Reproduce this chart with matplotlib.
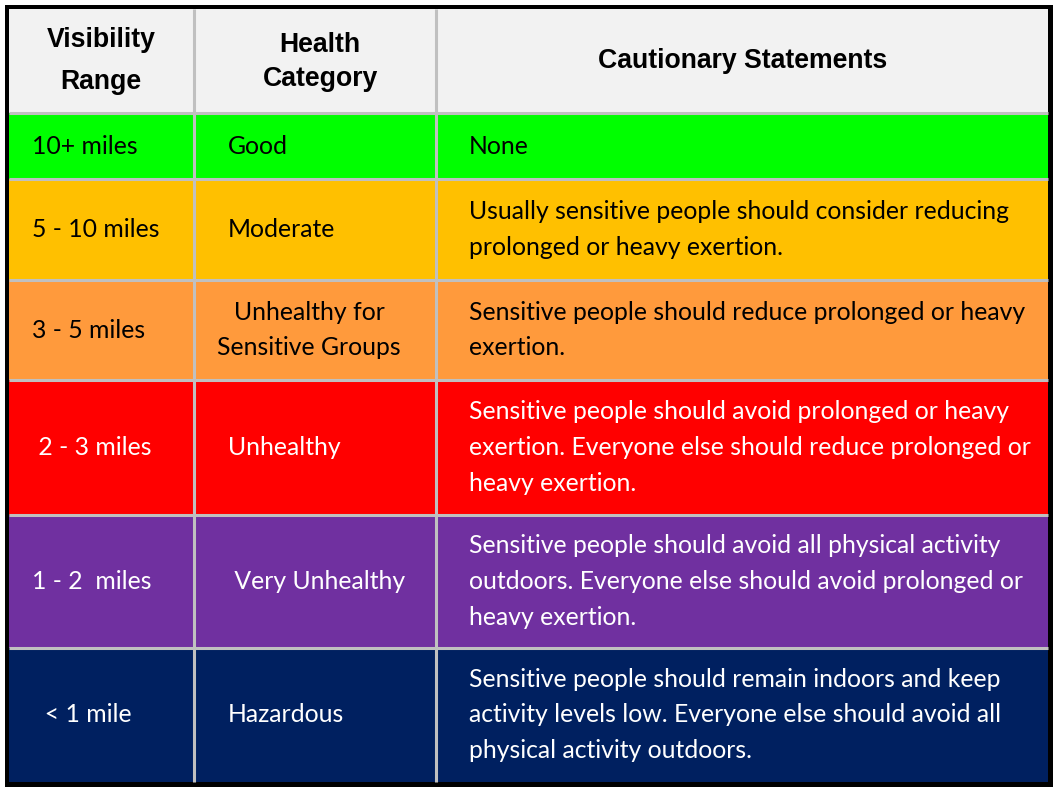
import matplotlib
matplotlib.use("Agg")
import matplotlib.pyplot as plt
from matplotlib.patches import Rectangle

headers = ["Visibility\nRange", "Health\nCategory", "Cautionary Statements"]
visibility = ["10+ miles", "5 - 10 miles", "3 - 5 miles", " 2 - 3 miles", "1 - 2  miles", "  < 1 mile"]
categories = ["Good", "Moderate", "Unhealthy for\nSensitive Groups", "Unhealthy", " Very Unhealthy", "Hazardous"]
statements = [
    "None",
    "Usually sensitive people should consider reducing\nprolonged or heavy exertion.",
    "Sensitive people should reduce prolonged or heavy\nexertion.",
    "Sensitive people should avoid prolonged or heavy\nexertion. Everyone else should reduce prolonged or\nheavy exertion.",
    "Sensitive people should avoid all physical activity\noutdoors. Everyone else should avoid prolonged or\nheavy exertion.",
    "Sensitive people should remain indoors and keep\nactivity levels low. Everyone else should avoid all\nphysical activity outdoors.",
]
row_colors = ["#00ff00", "#ffc000", "#ff9a3c", "#ff0000", "#7030a0", "#002060"]
text_colors = ["black", "black", "black", "white", "white", "white"]

W, H = 1058, 793
fig = plt.figure(figsize=(W / 100, H / 100), dpi=100)
ax = fig.add_axes([0, 0, 1, 1])
ax.set_xlim(0, W)
ax.set_ylim(H, 0)
ax.axis("off")

col_x = [9, 194, 436, 1048]
row_y = [9, 113, 179, 280, 380, 515, 648, 782]

# outer black frame
ax.add_patch(Rectangle((5, 5), 1048, 782, facecolor="black", edgecolor="none", zorder=0))

grid = "#c0c0c0"
# header
ax.add_patch(Rectangle((col_x[0], row_y[0]), col_x[-1] - col_x[0], row_y[1] - row_y[0],
                       facecolor="#f2f2f2", edgecolor="none", zorder=1))
for i, c in enumerate(row_colors):
    ax.add_patch(Rectangle((col_x[0], row_y[i + 1]), col_x[-1] - col_x[0], row_y[i + 2] - row_y[i + 1],
                           facecolor=c, edgecolor="none", zorder=1))

# grid lines
for x in col_x[1:-1]:
    ax.plot([x, x], [row_y[0], row_y[-1]], color=grid, lw=2.2, zorder=2, solid_capstyle="butt")
for y in row_y[1:-1]:
    ax.plot([col_x[0], col_x[-1]], [y, y], color=grid, lw=2.2, zorder=2, solid_capstyle="butt")

hfont = dict(family="Liberation Sans", fontweight="bold", fontsize=19.2, color="black")
ax.text(101, 61, headers[0], ha="center", va="center", linespacing=1.81, zorder=3, **hfont)
ax.text(320, 61.5, headers[1], ha="center", va="center", linespacing=1.40, zorder=3, **hfont)
ax.text(743, 61, headers[2], ha="center", va="center", zorder=3, **hfont)

bfont = dict(family="Lato", fontsize=17.8)
for i in range(6):
    yc = (row_y[i + 1] + row_y[i + 2]) / 2
    tc = text_colors[i]
    ax.text(32, yc, visibility[i], ha="left", va="center", color=tc, zorder=3, **bfont)
    if "\n" in categories[i]:
        ax.text(309, yc, categories[i], ha="center", va="center", color=tc,
                linespacing=1.67, multialignment="center", zorder=3, **bfont)
    else:
        ax.text(228, yc, categories[i], ha="left", va="center", color=tc, zorder=3, **bfont)
    ax.text(469, yc, statements[i], ha="left", va="center", color=tc,
            linespacing=1.67, zorder=3, **bfont)

fig.savefig("out.png", dpi=100, facecolor="white")
